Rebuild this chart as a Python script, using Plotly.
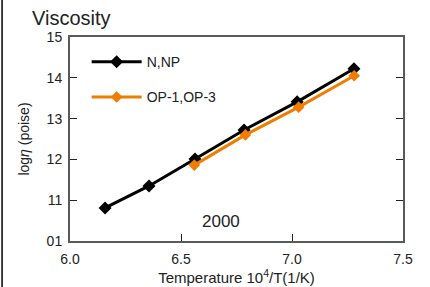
import plotly.graph_objects as go

series_names = ["N,NP", "OP-1,OP-3"]
np_x = [6.158, 6.356, 6.563, 6.784, 7.023, 7.279]
np_y = [10.81, 11.35, 12.01, 12.72, 13.41, 14.22]
op_x = [6.56, 6.79, 7.03, 7.28]
op_y = [11.86, 12.60, 13.28, 14.05]
x_ticks = [6.0, 6.5, 7.0, 7.5]
x_ticklabels = ["6.0", "6.5", "7.0", "7.5"]
y_ticks = [10, 11, 12, 13, 14, 15]
y_ticklabels = ["01", "11", "12", "13", "14", "15"]

FONT = "Liberation Sans, Arial, sans-serif"
AX = "#5a5a5a"
TXT = "#222222"

fig = go.Figure()
fig.add_trace(go.Scatter(x=np_x, y=np_y, name=series_names[0], mode="lines+markers",
                         legendgroup="a",
                         line=dict(color="black", width=3),
                         marker=dict(symbol="diamond", size=10, color="black")))
fig.add_trace(go.Scatter(x=op_x, y=op_y, name=series_names[1], mode="lines+markers",
                         legendgroup="b",
                         line=dict(color="#f07d00", width=3),
                         marker=dict(symbol="diamond", size=9, color="#f07d00")))

fig.update_layout(
    width=430, height=287,
    margin=dict(l=70, r=27, t=37, b=46, autoexpand=False),
    paper_bgcolor="white", plot_bgcolor="white",
    font=dict(family=FONT, size=14, color=TXT),
    showlegend=True,
    legend=dict(x=0.05, y=0.955, xanchor="left", yanchor="top",
                bgcolor="rgba(0,0,0,0)", itemwidth=50, tracegroupgap=14,
                font=dict(size=14, color=TXT)),
    xaxis=dict(range=[6.0, 7.5], tickvals=x_ticks, ticktext=x_ticklabels,
               automargin=False,
               showgrid=False, zeroline=False, showline=True, linecolor=AX, linewidth=2,
               mirror=True, ticks="inside", ticklen=7, tickcolor=TXT, tickwidth=1,
               tickfont=dict(size=14), ticklabelstandoff=4,
               title=dict(text="Temperature 10<sup>4</sup>/T(1/K)", standoff=6,
                          font=dict(size=15))),
    yaxis=dict(range=[10, 15], tickvals=y_ticks, ticktext=y_ticklabels,
               automargin=False,
               showgrid=False, zeroline=False, showline=True, linecolor=AX, linewidth=2,
               mirror="ticks", ticks="inside", ticklen=7, tickcolor=TXT, tickwidth=1,
               tickfont=dict(size=14), ticklabelstandoff=3,
               title=dict(text="log<i>η</i> (poise)", standoff=14, font=dict(size=14))),
    annotations=[
        dict(text="Viscosity", xref="paper", yref="paper", x=-0.12, y=1.03,
             xanchor="left", yanchor="bottom", showarrow=False,
             font=dict(size=20, color=TXT)),
        dict(text="2000", xref="x", yref="y", x=6.68, y=10.48, showarrow=False,
             font=dict(size=17, color=TXT)),
    ],
    shapes=[
        dict(type="line", xref="paper", yref="paper", x0=-0.204, x1=-0.204, y0=-0.23, y1=1.19,
             line=dict(color="black", width=1.5)),
    ],
)

fig.write_html("out.html", post_script="document.body.style.margin='0';",
               config={"displayModeBar": False})
